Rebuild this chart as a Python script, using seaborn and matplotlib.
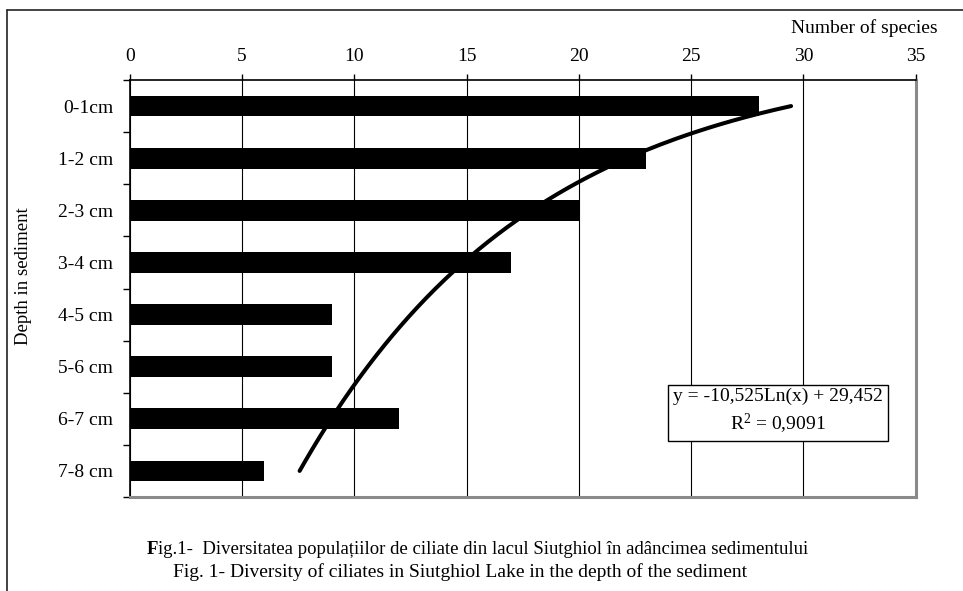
import numpy as np
import pandas as pd
import matplotlib
matplotlib.use("Agg")
import matplotlib.pyplot as plt
import seaborn as sns
from matplotlib.lines import Line2D

# ---- data ----
depths = ["0-1cm", "1-2 cm", "2-3 cm", "3-4 cm", "4-5 cm", "5-6 cm", "6-7 cm", "7-8 cm"]
species = [28, 23, 20, 17, 9, 9, 12, 6]
x_ticks = [0, 5, 10, 15, 20, 25, 30, 35]

sns.set_theme(style="white")
plt.rcParams["font.family"] = ["Liberation Serif", "DejaVu Serif"]
plt.rcParams["text.color"] = "black"
plt.rcParams["xtick.color"] = "black"
plt.rcParams["ytick.color"] = "black"
plt.rcParams["axes.labelcolor"] = "black"
plt.rcParams["mathtext.fontset"] = "custom"
plt.rcParams["mathtext.rm"] = "Liberation Serif"
plt.rcParams["mathtext.it"] = "Liberation Serif:italic"
FS = 14

df = pd.DataFrame({"depth": depths, "species": species})

fig = plt.figure(figsize=(9.63, 5.91), dpi=100)
W, H = 963, 591
ax = fig.add_axes([129.7 / W, 1 - 497 / H, (915.7 - 129.7) / W, (497 - 80) / H])

sns.barplot(data=df, x="species", y="depth", orient="h", color="black",
            saturation=1, width=0.4, linewidth=0, ax=ax, zorder=3)

# logarithmic trendline fitted to the data (category index 1..n)
k = np.arange(1, len(species) + 1)
slope, intercept = np.polyfit(np.log(k), species, 1)
pred = slope * np.log(k) + intercept
ss_res = np.sum((np.array(species) - pred) ** 2)
ss_tot = np.sum((np.array(species) - np.mean(species)) ** 2)
r2 = 1 - ss_res / ss_tot
kk = np.linspace(1, len(species), 200)
ax.plot(slope * np.log(kk) + intercept, kk - 1, color="black", lw=2.9,
        solid_capstyle="round", zorder=4)

ax.set_xlim(0, 35)
ax.set_ylim(len(depths) - 0.5, -0.5)
ax.xaxis.tick_top()
ax.set_xticks(x_ticks)
ax.set_xticklabels([str(t) for t in x_ticks], fontsize=FS)
ax.tick_params(axis="x", direction="out", length=4, width=1, color="black",
               pad=7, top=True, bottom=False, labelcolor="black")
ax.xaxis.grid(True, color="black", lw=0.8, zorder=0)
ax.yaxis.grid(False)
ax.set_axisbelow(True)

ax.set_yticks(range(len(depths)))
ax.set_yticklabels(depths, fontsize=FS)
ax.tick_params(axis="y", which="major", length=0, pad=12, labelcolor="black")
ax.set_yticks(np.arange(-0.5, len(depths), 1.0), minor=True)
ax.tick_params(axis="y", which="minor", left=True, direction="out", length=5,
               width=1, color="black")
ax.set_xlabel("")
ax.set_ylabel("")

for s in ["top", "left"]:
    ax.spines[s].set_color("black")
    ax.spines[s].set_linewidth(1.2)
for s in ["right", "bottom"]:
    ax.spines[s].set_color("#8a8a8a")
    ax.spines[s].set_linewidth(2.2)

def fmt(v, d):
    return f"{v:.{d}f}".replace(".", ",")

eq = f"y = {fmt(slope, 3)}Ln(x) + {fmt(intercept, 3)}\nR$^2$ = {fmt(r2, 4)}"
ax.text(0.825, 0.204, eq, transform=ax.transAxes, ha="center", va="center",
        fontsize=FS, linespacing=1.35, zorder=6,
        bbox=dict(boxstyle="square,pad=0.25", fc="white", ec="black", lw=1))

fig.text(938 / W, 1 - 28 / H, "Number of species", ha="right", va="center", fontsize=FS)
fig.text(23 / W, 1 - 276 / H, "Depth in sediment", ha="center", va="center",
         rotation=90, fontsize=13.5)

tF = fig.text(147 / W, 1 - 549 / H, "F", ha="left", va="center", fontsize=13.5,
              fontweight="bold")
ax.annotate("ig.1-  Diversitatea populațiilor de ciliate din lacul Siutghiol în adâncimea sedimentului",
            xy=(1, 0), xycoords=tF, ha="left", va="bottom", fontsize=13.5,
            annotation_clip=False)
fig.text(173 / W, 1 - 572 / H,
         "Fig. 1- Diversity of ciliates in Siutghiol Lake in the depth of the sediment",
         ha="left", va="center", fontsize=FS)

# outer frame (left and top edges visible)
fig.add_artist(Line2D([7 / W, 7 / W], [0, 1 - 10 / H], transform=fig.transFigure,
                      color="#222222", lw=1.2))
fig.add_artist(Line2D([7 / W, 1], [1 - 10 / H, 1 - 10 / H], transform=fig.transFigure,
                      color="#222222", lw=1.2))

fig.savefig("out.png", dpi=100)
